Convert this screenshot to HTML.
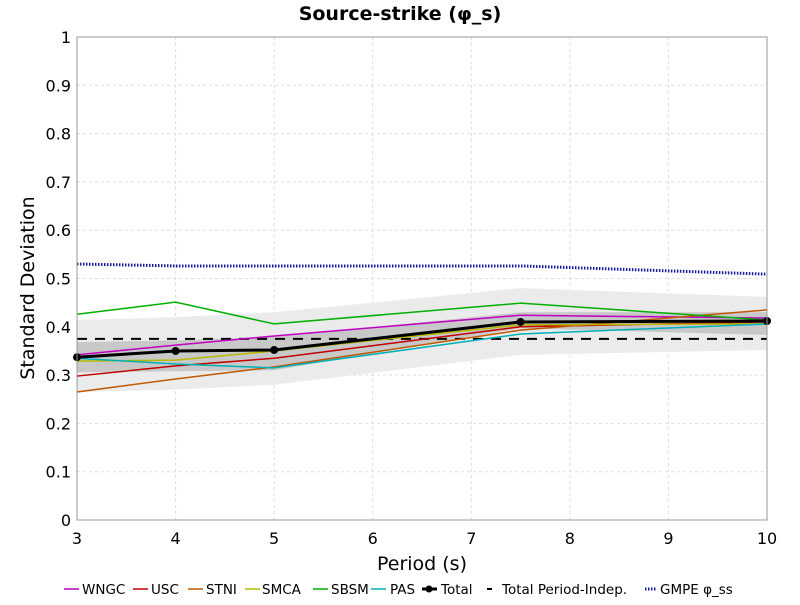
<!DOCTYPE html>
<html><head><meta charset="utf-8"><style>
body{margin:0;background:#fff;}
svg text{font-family:"DejaVu Sans","Liberation Sans",sans-serif;}
</style></head><body>
<svg id="chart" width="800" height="600" viewBox="0 0 800 600">
<rect width="800" height="600" fill="#fff"/>
<text x="400" y="20" text-anchor="middle" font-size="19" font-weight="bold">Source-strike (φ_s)</text>
<g id="grid"></g>
<g id="bands"></g>
<g id="series"></g>
<rect x="77" y="37" width="690" height="483" fill="none" stroke="#999"/>
<g id="axes"></g>
<text x="422" y="570" text-anchor="middle" font-size="19">Period (s)</text>
<text transform="translate(34,288) rotate(-90)" text-anchor="middle" font-size="19">Standard Deviation</text>
<g id="legend"></g>
</svg>
<script>
const periods=[3,4,5,7.5,10];
const xTicks=[3,4,5,6,7,8,9,10];
const yTicks=[0,0.1,0.2,0.3,0.4,0.5,0.6,0.7,0.8,0.9,1];
const yTickLabels=["0","0.1","0.2","0.3","0.4","0.5","0.6","0.7","0.8","0.9","1"];
const seriesNames=["WNGC","USC","STNI","SMCA","SBSM","PAS"];
const seriesColors=["#c000c0","#c00000","#c05800","#b8b800","#00b000","#00b0b8"];
const wngc=[0.342,0.362,0.381,0.424,0.418];
const usc=[0.298,0.319,0.335,0.400,0.410];
const stni=[0.265,0.292,0.317,0.393,0.435];
const smca=[0.329,0.331,0.350,0.404,0.406];
const sbsm=[0.426,0.451,0.406,0.449,0.414];
const pas=[0.335,0.323,0.315,0.385,0.406];
const total=[0.337,0.350,0.352,0.410,0.412];
const totalIndep=0.375;
const gmpe=[0.530,0.526,0.526,0.526,0.509];
const outerLo=[0.265,0.270,0.280,0.342,0.352];
const outerHi=[0.414,0.420,0.430,0.480,0.462];
const innerLo=[0.306,0.308,0.310,0.397,0.383];
const innerHi=[0.368,0.372,0.379,0.430,0.430];
const seriesData=[wngc,usc,stni,smca,sbsm,pas];

const NS="http://www.w3.org/2000/svg";
const X=v=>77+(v-3)*690/7;
const Y=v=>520-v*483;
function mk(p,tag,at){const e=document.createElementNS(NS,tag);for(const k in at)e.setAttribute(k,at[k]);p.appendChild(e);return e;}
const grid=document.getElementById('grid'),axes=document.getElementById('axes');
xTicks.forEach(t=>{
 const l=mk(grid,'line',{x1:X(t),x2:X(t),y1:37,y2:520,stroke:'#ddd','stroke-dasharray':'3,3'});
 
 
 const tx=mk(axes,'text',{x:X(t),y:544,'text-anchor':'middle','font-size':16});tx.textContent=t;
 
 
});
yTicks.forEach((t,i)=>{
 const l=mk(grid,'line',{x1:77,x2:767,y1:Y(t),y2:Y(t),stroke:'#ddd','stroke-dasharray':'3,3'});
 
 
 const tx=mk(axes,'text',{x:71,y:Y(t)+6,'text-anchor':'end','font-size':16});tx.textContent=yTickLabels[i];
 
 
});
const bands=document.getElementById('bands');
function band(lo,hi,fill,name){
 let d=periods.map((p,i)=>(i?'L':'M')+X(p)+','+Y(hi[i])).join('')+periods.slice().reverse().map((p,j)=>'L'+X(p)+','+Y(lo[periods.length-1-j])).join('')+'Z';
 const e=mk(bands,'path',{d:d,fill:fill});
 
 
}
band(outerLo,outerHi,'#ebebeb','outer-band');
band(innerLo,innerHi,'#c8c8c8','inner-band');
const sg=document.getElementById('series');
const pts=a=>periods.map((p,i)=>X(p)+','+Y(a[i])).join(' ');
const il=mk(sg,'line',{x1:77,x2:767,y1:Y(totalIndep),y2:Y(totalIndep),stroke:'#000','stroke-width':2,'stroke-dasharray':'10,8'});


seriesData.forEach((a,k)=>{
 const e=mk(sg,'polyline',{points:pts(a),fill:'none',stroke:seriesColors[k],'stroke-width':1.5});
 
 
});
const g=mk(sg,'polyline',{points:pts(gmpe),fill:'none',stroke:'#1a1aa0','stroke-width':3,'stroke-dasharray':'1.5,1.5'});


const tl=mk(sg,'polyline',{points:pts(total),fill:'none',stroke:'#000','stroke-width':3});


total.forEach((v,i)=>{
 const c=mk(sg,'circle',{cx:X(periods[i]),cy:Y(v),r:4,fill:'#000'});
 
 
});
const lg=document.getElementById('legend');
const legendItems=[...seriesNames.map((n,k)=>({n,c:seriesColors[k]})),{n:'Total',c:'#000',t:'total'},{n:'Total Period-Indep.',c:'#000',t:'dash'},{n:'GMPE φ_ss',c:'#1a1aa0',t:'dot'}];
const lx=[64,133,188,245,313,371,422,487,645];
const tx0=[82,151,206,262,331,390,441,502,660];
legendItems.forEach((it,i)=>{
 const x=lx[i];
 const gi=mk(lg,'g',{});
 
 
 if(it.t==='dash') mk(gi,'line',{x1:x,x2:x+5,y1:589,y2:589,stroke:'#000','stroke-width':2});
 else if(it.t==='dot') mk(gi,'line',{x1:x,x2:x+12,y1:589,y2:589,stroke:it.c,'stroke-width':3,'stroke-dasharray':'1.5,1.5'});
 else if(it.t==='total'){mk(gi,'line',{x1:x,x2:x+15,y1:589,y2:589,stroke:'#000','stroke-width':3});mk(gi,'circle',{cx:x+7,cy:589,r:3.5,fill:'#000'});}
 else mk(gi,'line',{x1:x,x2:x+15,y1:589,y2:589,stroke:it.c,'stroke-width':1.5});
 const tx=mk(gi,'text',{x:tx0[i],y:594,'font-size':13.5});tx.textContent=it.n;
});
</script>
</body></html>
